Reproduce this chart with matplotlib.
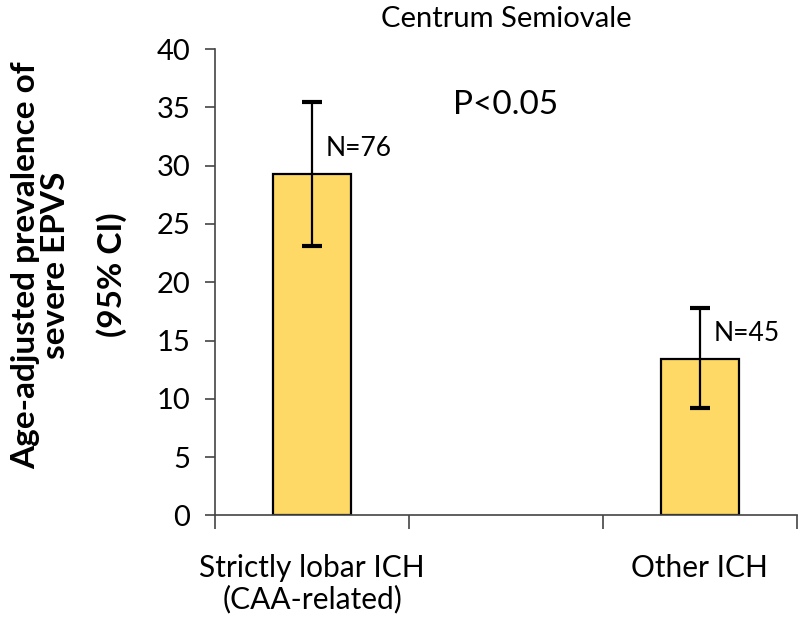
import numpy as np
import matplotlib
matplotlib.use("Agg")
import matplotlib.pyplot as plt

plt.rcParams['font.family'] = ['Lato', 'DejaVu Sans']

# data
groups = ["Strictly lobar ICH\n(CAA-related)", "", "Other ICH"]
prevalence = [29.3, np.nan, 13.4]
ci_low = [23.1, np.nan, 9.2]
ci_high = [35.5, np.nan, 17.8]
n_labels = ["N=76", "", "N=45"]
y_ticks = [0, 5, 10, 15, 20, 25, 30, 35, 40]

x = np.arange(len(groups))
vals = np.array(prevalence)
err = np.array([vals - np.array(ci_low), np.array(ci_high) - vals])

fig = plt.figure(figsize=(8, 6.21), dpi=100)
ax = fig.add_axes([0.269, 0.170, 0.727, 0.751])

ax.bar(x, vals, width=0.4, color="#FFD966", edgecolor="black", linewidth=1.6, zorder=2)
ax.errorbar(x, vals, yerr=err, fmt="none", ecolor="black", elinewidth=1.6,
            capsize=7, capthick=3, zorder=3)

# N labels sit to the right of each error bar
for xi, v, hi, lab in zip(x, vals, ci_high, n_labels):
    if lab:
        ax.text(xi + 0.07, hi - 4.0 if xi == 0 else hi - 2.2, lab, fontsize=19,
                ha="left", va="center")

ax.text(1, 35.2, "P<0.05", fontsize=24, ha="center", va="center")

ax.set_xlim(-0.5, 2.5)
ax.set_ylim(0, 40)
ax.set_yticks(y_ticks)
ax.set_xticks([-0.5, 0.5, 1.5, 2.5])
ax.set_xticklabels([])
ax.set_xticks([0, 2], minor=True)
ax.set_xticklabels([groups[0], groups[2]], minor=True, linespacing=1.1)

ax.tick_params(axis="y", direction="out", length=7, width=1.2, color="#444444",
               labelsize=21, pad=11)
ax.tick_params(axis="x", which="major", direction="out", length=10, width=1.2,
               color="#444444")
ax.tick_params(axis="x", which="minor", length=0, labelsize=21.5, pad=28)

for side in ["top", "right"]:
    ax.spines[side].set_visible(False)
for side in ["left", "bottom"]:
    ax.spines[side].set_color("#444444")
    ax.spines[side].set_linewidth(1.2)

# y label: two lines, then the CI note set a bit further right
fig.text(70 / 800, 0.573, "Age-adjusted prevalence of\nsevere EPVS", rotation=90,
         fontsize=24, fontweight="bold", linespacing=1.05, ha="right", va="center",
         multialignment="center")
fig.text(127 / 800, 0.557, "(95% CI)", rotation=90, fontsize=24,
         fontweight="bold", ha="right", va="center")

ax.set_title("Centrum Semiovale", fontsize=21, pad=16)

fig.savefig("out.png", dpi=100)
